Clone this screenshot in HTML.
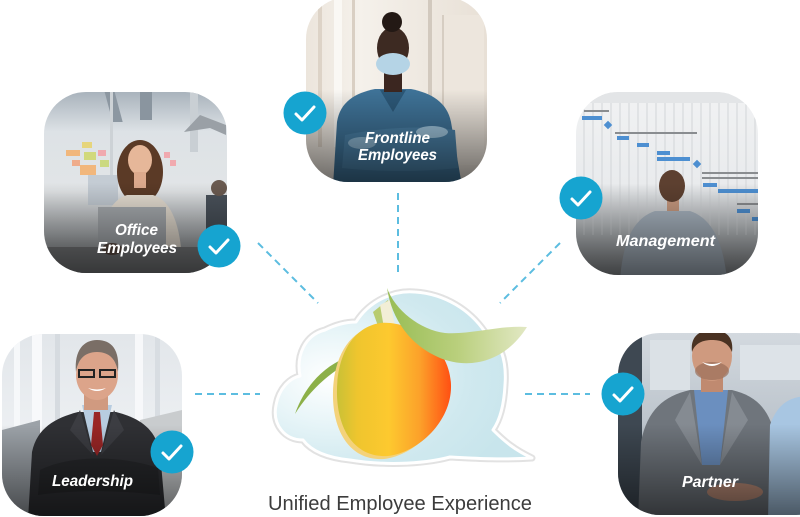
<!DOCTYPE html>
<html><head><meta charset="utf-8"><style>
html,body{margin:0;padding:0;background:#fff;width:800px;height:517px;overflow:hidden}
svg{display:block}
.lbl{font-family:"Liberation Sans",sans-serif;font-weight:bold;font-style:italic;font-size:16px;fill:#fff}
.cap{font-family:"Liberation Sans",sans-serif;font-size:20px;fill:#3c3c3c}
</style></head><body>
<svg width="800" height="517" viewBox="0 0 800 517" xmlns="http://www.w3.org/2000/svg">
<defs>
 <clipPath id="c1"><rect x="44" y="92" width="183" height="181" rx="42"/></clipPath>
 <clipPath id="c2"><rect x="306" y="-3" width="181" height="185" rx="42"/></clipPath>
 <clipPath id="c3"><rect x="576" y="92" width="182" height="183" rx="42"/></clipPath>
 <clipPath id="c4"><rect x="2" y="334" width="180" height="182" rx="42"/></clipPath>
 <clipPath id="c5"><rect x="618" y="333" width="220" height="182" rx="42"/></clipPath>
 <linearGradient id="shade" x1="0" y1="0" x2="0" y2="1">
  <stop offset="0.5" stop-color="#000" stop-opacity="0"/>
  <stop offset="1" stop-color="#000" stop-opacity="0.55"/>
 </linearGradient>
 <linearGradient id="offbg" x1="0" y1="0" x2="0" y2="1">
  <stop offset="0" stop-color="#a9b3bc"/>
  <stop offset="0.22" stop-color="#dde2e6"/>
  <stop offset="0.55" stop-color="#e2e5e7"/>
  <stop offset="0.78" stop-color="#b4b8bb"/>
  <stop offset="1" stop-color="#7c7f82"/>
 </linearGradient>
 <linearGradient id="frbg" x1="0" y1="0" x2="1" y2="0">
  <stop offset="0" stop-color="#ece5dc"/>
  <stop offset="0.3" stop-color="#f5f1eb"/>
  <stop offset="1" stop-color="#e8e0d6"/>
 </linearGradient>
 <linearGradient id="mgbg" x1="0" y1="0" x2="0" y2="1">
  <stop offset="0" stop-color="#f1f2f3"/>
  <stop offset="0.5" stop-color="#e9ebed"/>
  <stop offset="0.72" stop-color="#c6cacd"/>
  <stop offset="1" stop-color="#8c9094"/>
 </linearGradient>
 <linearGradient id="ldbg" x1="0" y1="0" x2="0" y2="1">
  <stop offset="0" stop-color="#e2e6ea"/>
  <stop offset="0.5" stop-color="#eceff2"/>
  <stop offset="1" stop-color="#b8bcc0"/>
 </linearGradient>
 <linearGradient id="ptbg" x1="0" y1="0" x2="0" y2="1">
  <stop offset="0" stop-color="#d3d9df"/>
  <stop offset="0.5" stop-color="#bcc4cc"/>
  <stop offset="1" stop-color="#8e98a2"/>
 </linearGradient>
 <radialGradient id="cloudg" cx="0.22" cy="0.5" r="0.75">
  <stop offset="0" stop-color="#ffffff"/>
  <stop offset="0.35" stop-color="#e8f5f8"/>
  <stop offset="0.7" stop-color="#d0e9ef"/>
  <stop offset="1" stop-color="#c8e5ec"/>
 </radialGradient>
 <linearGradient id="mango" x1="337" y1="0" x2="452" y2="0" gradientUnits="userSpaceOnUse">
  <stop offset="0" stop-color="#c9c136"/>
  <stop offset="0.18" stop-color="#efc52e"/>
  <stop offset="0.45" stop-color="#fdc92f"/>
  <stop offset="0.72" stop-color="#fca12a"/>
  <stop offset="1" stop-color="#ff4d12"/>
 </linearGradient>
 <linearGradient id="leaf" x1="387" y1="0" x2="527" y2="0" gradientUnits="userSpaceOnUse">
  <stop offset="0" stop-color="#98bd55"/>
  <stop offset="0.5" stop-color="#b9cf7c"/>
  <stop offset="1" stop-color="#e2e8c4"/>
 </linearGradient>
</defs>

<!-- dashed connectors -->
<g stroke="#5cbde0" stroke-width="2" stroke-dasharray="7 5" fill="none">
 <line x1="258" y1="243" x2="318" y2="303"/>
 <line x1="398" y1="193" x2="398" y2="276"/>
 <line x1="560" y1="243" x2="500" y2="303"/>
 <line x1="195" y1="394" x2="260" y2="394"/>
 <line x1="525" y1="394" x2="590" y2="394"/>
</g>

<!-- Card 1: Office -->
<g clip-path="url(#c1)">
 <rect x="44" y="92" width="183" height="181" fill="url(#offbg)"/>
 <rect x="80" y="92" width="10" height="30" fill="#8c97a1" transform="skewX(15)"/>
 <rect x="140" y="92" width="12" height="28" fill="#8a959f"/>
 <rect x="190" y="92" width="8" height="60" fill="#c9cfd4"/>
 <rect x="110" y="92" width="3" height="110" fill="#cdd2d6"/>
 <g opacity="0.85">
  <rect x="66" y="150" width="14" height="6" fill="#f5b06a"/>
  <rect x="82" y="142" width="10" height="6" fill="#e8d36a"/>
  <rect x="84" y="152" width="12" height="8" fill="#cfd86a"/>
  <rect x="72" y="160" width="8" height="6" fill="#f2a37c"/>
  <rect x="80" y="165" width="16" height="10" fill="#f5b06a"/>
  <rect x="98" y="150" width="8" height="6" fill="#f4a0a6"/>
  <rect x="100" y="160" width="9" height="7" fill="#c8d870"/>
  <rect x="164" y="152" width="6" height="6" fill="#f4a0a6"/>
  <rect x="170" y="160" width="6" height="6" fill="#f4a0a6"/>
 </g>
 <path d="M184 132 L200 115 L226 125 L226 135 L210 128 Z" fill="#9aa0a6"/>
 <rect x="88" y="175" width="30" height="30" fill="#c4ccd4"/>
 <rect x="206" y="195" width="24" height="60" fill="#4a525b"/>
 <circle cx="219" cy="188" r="8" fill="#6a5a50"/>
 <ellipse cx="140" cy="172" rx="23" ry="32" fill="#5b3a26"/>
 <ellipse cx="140" cy="160" rx="12" ry="15" fill="#e6b799"/>
 <rect x="134" y="172" width="12" height="16" fill="#dca98c"/>
 <path d="M98 260 C100 222 110 200 127 195 L153 195 C170 200 180 222 182 260 Z" fill="#e6ded2"/>
 <rect x="98" y="207" width="68" height="42" fill="#a7abaf"/>
 <rect x="44" y="247" width="183" height="30" fill="#7a7c7e"/>
 <ellipse cx="112" cy="249" rx="10" ry="6" fill="#5a4a42"/>
 <rect x="44" y="92" width="183" height="181" fill="url(#shade)"/>
 <text class="lbl" x="136.5" y="235" text-anchor="middle" textLength="43" lengthAdjust="spacingAndGlyphs">Office</text>
 <text class="lbl" x="137" y="253" text-anchor="middle" textLength="80" lengthAdjust="spacingAndGlyphs">Employees</text>
</g>

<!-- Card 2: Frontline -->
<g clip-path="url(#c2)">
 <rect x="306" y="-3" width="181" height="185" fill="url(#frbg)"/>
 <rect x="318" y="-3" width="4" height="150" fill="#ddd3c7"/>
 <rect x="334" y="-3" width="8" height="150" fill="#faf8f4"/>
 <rect x="352" y="-3" width="3" height="150" fill="#d9cfc3"/>
 <rect x="428" y="-3" width="4" height="120" fill="#d2c9be"/>
 <rect x="444" y="15" width="40" height="150" fill="#ede6dd"/>
 <rect x="442" y="15" width="2" height="150" fill="#d6cdc2"/>
 <path d="M333 186 L337 122 C340 102 355 93 375 89 L411 89 C431 93 447 102 451 122 L462 186 Z" fill="#3f7398"/>
 <path d="M380 90 L406 90 L393 112 Z" fill="#2c5878"/>
 <rect x="384" y="70" width="18" height="22" fill="#3b2620"/>
 <ellipse cx="393" cy="48" rx="16" ry="21" fill="#3d2a22"/>
 <circle cx="392" cy="22" r="10" fill="#231915"/>
 <ellipse cx="393" cy="64" rx="17" ry="11" fill="#b5d4e6"/>
 <path d="M345 135 C380 128 420 125 455 130 L458 168 C420 172 380 172 342 168 Z" fill="#4a80a6"/>
 <ellipse cx="432" cy="132" rx="16" ry="6" fill="#9ec4dc"/>
 <ellipse cx="362" cy="143" rx="14" ry="6" fill="#8cb6d2"/>
 <rect x="306" y="-3" width="181" height="185" fill="url(#shade)"/>
 <text class="lbl" x="397.5" y="143" text-anchor="middle" textLength="65" lengthAdjust="spacingAndGlyphs">Frontline</text>
 <text class="lbl" x="397.5" y="160" text-anchor="middle" textLength="79" lengthAdjust="spacingAndGlyphs">Employees</text>
</g>

<!-- Card 3: Management -->
<g clip-path="url(#c3)">
 <rect x="576" y="92" width="182" height="183" fill="url(#mgbg)"/>
 <g stroke="#d2d5d8" stroke-width="1">
  <line x1="584" y1="92" x2="584" y2="235"/><line x1="593" y1="92" x2="593" y2="235"/>
  <line x1="602" y1="92" x2="602" y2="235"/><line x1="611" y1="92" x2="611" y2="235"/>
  <line x1="620" y1="92" x2="620" y2="235"/><line x1="629" y1="92" x2="629" y2="235"/>
  <line x1="638" y1="92" x2="638" y2="235"/><line x1="647" y1="92" x2="647" y2="235"/>
  <line x1="656" y1="92" x2="656" y2="235"/><line x1="665" y1="92" x2="665" y2="235"/>
  <line x1="674" y1="92" x2="674" y2="235"/><line x1="683" y1="92" x2="683" y2="235"/>
  <line x1="692" y1="92" x2="692" y2="235"/><line x1="701" y1="92" x2="701" y2="235"/>
  <line x1="710" y1="92" x2="710" y2="235"/><line x1="719" y1="92" x2="719" y2="235"/>
  <line x1="728" y1="92" x2="728" y2="235"/><line x1="737" y1="92" x2="737" y2="235"/>
  <line x1="746" y1="92" x2="746" y2="235"/><line x1="755" y1="92" x2="755" y2="235"/>
 </g>
 <rect x="576" y="92" width="182" height="11" fill="#e3e5e7"/>
 <g fill="#4d8fd1">
  <rect x="582" y="116" width="20" height="4"/>
  <rect x="605" y="122" width="6" height="6" transform="rotate(45 608 125)"/>
  <rect x="617" y="136" width="12" height="4"/>
  <rect x="637" y="143" width="12" height="4"/>
  <rect x="657" y="151" width="13" height="4"/>
  <rect x="657" y="157" width="33" height="4"/>
  <rect x="694" y="161" width="6" height="6" transform="rotate(45 697 164)"/>
  <rect x="703" y="183" width="14" height="4"/>
  <rect x="718" y="189" width="40" height="4"/>
  <rect x="737" y="209" width="13" height="4"/>
  <rect x="752" y="217" width="8" height="4"/>
 </g>
 <g fill="#8a8d90">
  <rect x="584" y="110" width="25" height="2"/>
  <rect x="615" y="132" width="82" height="2"/>
  <rect x="702" y="172" width="56" height="2"/>
  <rect x="702" y="177" width="56" height="2"/>
  <rect x="737" y="203" width="21" height="2"/>
 </g>
 <rect x="667" y="198" width="12" height="14" fill="#c89a80"/>
 <ellipse cx="672" cy="186" rx="13" ry="16" fill="#5d4030"/>
 <path d="M620 280 C623 240 634 218 655 211 L690 211 C711 218 723 240 727 280 Z" fill="#aab6c2"/>
 <rect x="576" y="92" width="182" height="183" fill="url(#shade)"/>
 <text class="lbl" x="665.5" y="246" text-anchor="middle" textLength="99" lengthAdjust="spacingAndGlyphs">Management</text>
</g>

<!-- Card 4: Leadership -->
<g clip-path="url(#c4)">
 <rect x="2" y="334" width="180" height="182" fill="url(#ldbg)"/>
 <rect x="14" y="334" width="6" height="110" fill="#f6f8fa"/>
 <rect x="32" y="334" width="10" height="110" fill="#f8f9fb"/>
 <rect x="55" y="334" width="5" height="110" fill="#d6dbe0"/>
 <rect x="135" y="334" width="8" height="100" fill="#f7f8fa"/>
 <rect x="155" y="334" width="5" height="100" fill="#d8dde2"/>
 <path d="M2 430 L40 420 L40 516 L2 516 Z" fill="#9ca2a8"/>
 <path d="M140 420 L182 410 L182 516 L140 516 Z" fill="#c9ccce"/>
 <path d="M28 520 L32 452 C37 428 55 418 78 412 L116 412 C139 418 155 428 160 452 L166 520 Z" fill="#2f3034"/>
 <path d="M82 405 L112 405 L101 452 L93 452 Z" fill="#b7cce0"/>
 <path d="M94 412 L100 412 L103 445 L97 456 L91 445 Z" fill="#9a2626"/>
 <path d="M80 410 L93 455 L70 430 Z" fill="#3c3d42"/>
 <path d="M114 410 L101 455 L124 430 Z" fill="#3c3d42"/>
 <rect x="84" y="390" width="24" height="20" fill="#d09a80"/>
 <ellipse cx="97" cy="375" rx="21" ry="25" fill="#dca48a"/>
 <path d="M76 372 C74 350 84 340 97 340 C112 340 120 350 118 372 C116 360 110 352 97 352 C84 352 78 360 76 372 Z" fill="#7a6e66"/>
 <rect x="79" y="370" width="15" height="7" fill="none" stroke="#222" stroke-width="2"/>
 <rect x="100" y="370" width="15" height="7" fill="none" stroke="#222" stroke-width="2"/>
 <path d="M88 388 Q97 394 106 388 Q97 391 88 388 Z" fill="#fff"/>
 <path d="M40 470 C70 455 120 455 158 468 L160 495 C120 490 70 490 38 495 Z" fill="#26272a"/>
 <rect x="2" y="334" width="180" height="182" fill="url(#shade)"/>
 <text class="lbl" x="92.5" y="486" text-anchor="middle" textLength="81" lengthAdjust="spacingAndGlyphs">Leadership</text>
</g>

<!-- Card 5: Partner -->
<g clip-path="url(#c5)">
 <rect x="618" y="333" width="190" height="182" fill="url(#ptbg)"/>
 <rect x="618" y="333" width="24" height="182" fill="#3e4852"/>
 <rect x="650" y="340" width="40" height="50" fill="#dbe1e6"/>
 <rect x="740" y="345" width="60" height="35" fill="#dde3e8"/>
 <path d="M638 520 L641 442 C647 410 664 396 690 390 L732 390 C757 396 771 410 776 442 L782 520 Z" fill="#6f757c"/>
 <path d="M694 390 L728 390 L720 465 L702 465 Z" fill="#6b8fbf"/>
 <path d="M690 392 L702 465 L675 420 Z" fill="#858b92"/>
 <path d="M732 392 L720 465 L748 420 Z" fill="#858b92"/>
 <rect x="701" y="372" width="22" height="20" fill="#c08a70"/>
 <ellipse cx="712" cy="356" rx="20" ry="25" fill="#cf9a7f"/>
 <ellipse cx="712" cy="371" rx="17" ry="9" fill="#9a6e58" opacity="0.7"/>
 <path d="M692 352 C690 336 700 330 712 330 C725 330 734 336 732 352 C728 342 720 340 712 340 C703 340 695 343 692 352 Z" fill="#4a3222"/>
 <path d="M702 362 Q712 370 722 362 Q712 366 702 362 Z" fill="#fff"/>
 <path d="M768 520 L770 425 C778 402 792 396 810 396 L810 520 Z" fill="#a8c6e2"/>
 <ellipse cx="735" cy="492" rx="28" ry="9" fill="#b88a76"/>
 <rect x="618" y="333" width="190" height="182" fill="url(#shade)"/>
 <text class="lbl" x="710" y="487" text-anchor="middle" textLength="56" lengthAdjust="spacingAndGlyphs">Partner</text>
</g>

<!-- check circles -->
<g>
 <g transform="translate(219 246)"><circle r="21.5" fill="#16a4d0"/><path d="M-9 1 L-3 7 L9 -6" fill="none" stroke="#fff" stroke-width="3" stroke-linecap="round" stroke-linejoin="round"/></g>
 <g transform="translate(305 113)"><circle r="21.5" fill="#16a4d0"/><path d="M-9 1 L-3 7 L9 -6" fill="none" stroke="#fff" stroke-width="3" stroke-linecap="round" stroke-linejoin="round"/></g>
 <g transform="translate(581 198)"><circle r="21.5" fill="#16a4d0"/><path d="M-9 1 L-3 7 L9 -6" fill="none" stroke="#fff" stroke-width="3" stroke-linecap="round" stroke-linejoin="round"/></g>
 <g transform="translate(172 452)"><circle r="21.5" fill="#16a4d0"/><path d="M-9 1 L-3 7 L9 -6" fill="none" stroke="#fff" stroke-width="3" stroke-linecap="round" stroke-linejoin="round"/></g>
 <g transform="translate(623 394)"><circle r="21.5" fill="#16a4d0"/><path d="M-9 1 L-3 7 L9 -6" fill="none" stroke="#fff" stroke-width="3" stroke-linecap="round" stroke-linejoin="round"/></g>
</g>

<!-- cloud -->
<path d="M303 440 C285 440 272 425 276 405 C279 388 290 378 300 376 C296 355 305 335 325 330 C335 325 345 322 356 322 C370 300 395 290 415 292 C445 294 470 310 485 332 C500 340 507 360 505 385 C504 405 500 420 493 430 C505 442 515 450 532 458 C500 460 470 458 450 457 C420 465 380 465 350 460 C330 458 312 452 303 440 Z" fill="none" stroke="#e2e2e2" stroke-width="7" stroke-linejoin="round"/>
<path d="M303 440 C285 440 272 425 276 405 C279 388 290 378 300 376 C296 355 305 335 325 330 C335 325 345 322 356 322 C370 300 395 290 415 292 C445 294 470 310 485 332 C500 340 507 360 505 385 C504 405 500 420 493 430 C505 442 515 450 532 458 C500 460 470 458 450 457 C420 465 380 465 350 460 C330 458 312 452 303 440 Z" fill="url(#cloudg)" stroke="#ffffff" stroke-width="3" stroke-linejoin="round"/>

<!-- mango -->
<path d="M295 414 C305 385 325 365 350 356 L352 361 C330 372 310 390 295 414 Z" fill="#8cb048"/>
<path d="M373 312 L388 300 L393 326 L378 326 Z" fill="#b8cc70"/>
<path d="M380 305 L390 300 L395 326 L384 328 Z" fill="#f2eed6"/>
<path d="M376 326 C406 323 446 348 447 388 C448 423 416 455 384 459 C351 461 334 433 333 398 C332 363 346 331 376 326 Z" fill="#f4d27a"/>
<path d="M380 323 C410 320 450 345 451 385 C452 420 420 452 388 456 C355 458 338 430 337 395 C336 360 350 328 380 323 Z" fill="url(#mango)"/>
<path d="M387 288 C392 320 410 345 440 358 C470 370 505 362 527 327 C500 325 470 335 445 333 C420 330 395 310 387 288 Z" fill="url(#leaf)"/>

<text class="cap" x="400" y="510" text-anchor="middle" textLength="264" lengthAdjust="spacingAndGlyphs">Unified Employee Experience</text>
</svg>
</body></html>
